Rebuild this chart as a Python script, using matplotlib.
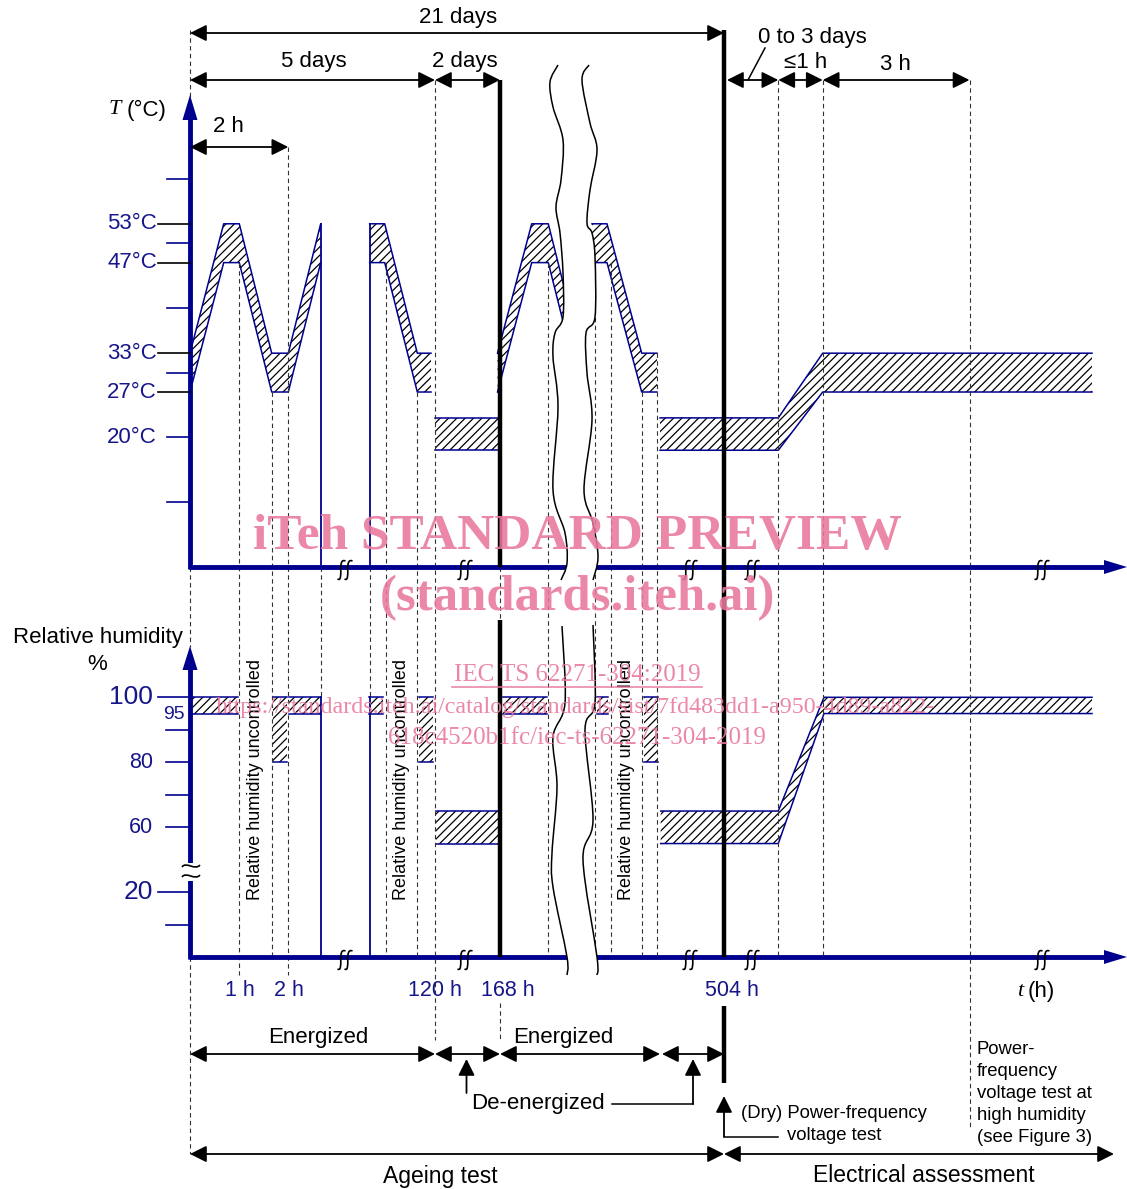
import numpy as np
import matplotlib
matplotlib.use('Agg')
import matplotlib.pyplot as plt
from matplotlib.path import Path
from matplotlib.patches import PathPatch

plt.rcParams['font.family'] = ['Liberation Sans', 'DejaVu Sans']
plt.rcParams['hatch.linewidth'] = 0.9

W, H, DPI = 1127, 1189, 100
NAVY = '#00008f'
NAVY_TXT = '#16168a'
PINK = '#e9789b'

# ---------------- data ----------------
# temperature axis (degC)
temp_major = [27, 33, 47, 53]
temp_minor = [10, 20, 30, 40, 50, 60]
temp_label_vals = [20, 27, 33, 47, 53]
temp_labels = ['20°C', '27°C', '33°C', '47°C', '53°C']

# relative humidity axis (%)
rh_long = [100, 20]
rh_short = [90, 80, 70, 60, 10]
rh_label_vals = [100, 80, 60, 20]
rh_labels = ['100', '80', '60', '20']
rh_label_sizes = [19, 15.5, 15.5, 19]

# schematic time axis positions (the time axis is broken, not to scale)
t_cyc1_x = [190, 223.7, 239.3, 271.7, 288.3, 320.7]
t_cyc1_hi = [33, 53, 53, 33, 33, 53]
t_cyc1_lo = [27, 47, 47, 27, 27, 47]
t_cyc2_x = [369.7, 384.7, 417.3, 431]
t_cyc2_hi = [53, 53, 33, 33]
t_cyc2_lo = [47, 47, 27, 27]
t_cyc3_x = [497.5, 531.7, 548.3, 580.7]
t_cyc3_hi = [33, 53, 53, 33]
t_cyc3_lo = [27, 47, 47, 27]
t_cyc4_x = [592, 607, 641.7, 657]
t_cyc4_hi = [53, 53, 33, 33]
t_cyc4_lo = [47, 47, 27, 27]
t_rest_x = [435, 498]
t_rest_hi = [23, 23]
t_rest_lo = [18, 18]
t_final_x = [660, 778.3, 822.7, 1092]
t_final_hi = [23, 23, 33, 33]
t_final_lo = [18, 18, 27, 27]

rh_band_x0 = [190, 272.7, 289.3, 369.3, 419.3, 436, 502.7, 596.7, 644]
rh_band_x1 = [238.3, 286.7, 320.7, 383.3, 433.3, 497.7, 546.7, 607.7, 657.7]
rh_band_lo = [95, 80, 95, 95, 80, 55, 95, 95, 80]
rh_band_hi = [100, 100, 100, 100, 100, 65, 100, 100, 100]
rh_final_x = [660.7, 778.3, 824, 1092]
rh_final_hi = [65, 65, 100, 100]
rh_final_lo = [55, 55, 95, 95]

energized_walls = [320.7, 369.7]

x_labels = ['1 h', '2 h', '120 h', '168 h', '504 h']
x_label_pos = [240, 289, 435, 508, 732]

# ---------------- layout helpers ----------------
Y20, TPX = 437.3, 6.47     # pixel row of 20 degC, px per degC
Y100, HPX = 697.3, 3.25    # pixel row of 100 %, px per %
RH_SHIFT = 20              # axis break on RH axis
X0 = 190
YT_AX, YH_AX = 567, 957


def ty(T):
    return Y20 - (np.asarray(T, float) - 20) * TPX


def rh_disp(v):
    v = np.asarray(v, float)
    return np.where(v >= 50, v, v + RH_SHIFT)


def hy(v):
    return Y100 + (100 - rh_disp(v)) * HPX


fig = plt.figure(figsize=(W / DPI, H / DPI), dpi=DPI)
fig.patch.set_facecolor('white')
axT = fig.add_axes([0, 0, 1, 1])
axT.set_xlim(0, W)
axT.set_ylim(20 - (H - Y20) / TPX, 20 + Y20 / TPX)
axH = fig.add_axes([0, 0, 1, 1])
axH.set_xlim(0, W)
axH.set_ylim(100 - (H - Y100) / HPX, 100 + Y100 / HPX)
ax = fig.add_axes([0, 0, 1, 1])
ax.set_xlim(0, W)
ax.set_ylim(H, 0)
for a in (axT, axH, ax):
    a.axis('off')
    a.patch.set_visible(False)


def band(a, x, lo, hi, z=2):
    a.fill_between(x, lo, hi, facecolor='white', edgecolor='black',
                   hatch='////', linewidth=0, zorder=z)
    a.plot(x, hi, color=NAVY, lw=1.1, zorder=z + 1)
    a.plot(x, lo, color=NAVY, lw=1.1, zorder=z + 1)


# temperature profile
band(axT, t_cyc1_x, t_cyc1_lo, t_cyc1_hi)
band(axT, t_cyc2_x, t_cyc2_lo, t_cyc2_hi)
band(axT, t_cyc3_x, t_cyc3_lo, t_cyc3_hi)
band(axT, t_cyc4_x, t_cyc4_lo, t_cyc4_hi)
band(axT, t_rest_x, t_rest_lo, t_rest_hi)
band(axT, t_final_x, t_final_lo, t_final_hi)
for xw in energized_walls:
    axT.plot([xw, xw], [0, max(t_cyc1_hi)], color=NAVY, lw=1.3, zorder=4)

# humidity profile
for x0, x1, lo, hi in zip(rh_band_x0, rh_band_x1, rh_band_lo, rh_band_hi):
    band(axH, [x0, x1], [lo, lo], [hi, hi])
band(axH, rh_final_x, rh_final_lo, rh_final_hi)
for xw in energized_walls:
    axH.plot([xw, xw], [rh_disp(0), 100], color=NAVY, lw=1.3, zorder=4)

# ---------------- dashed guide lines ----------------
DASH = dict(color='#333333', lw=0.8, ls=(0, (4, 3)), zorder=5)
guides = [
    (X0, 30, 97), (X0, YT_AX, 647), (X0, YH_AX, 1154),
    (239.3, ty(47), 975), (271.7, ty(27), YH_AX), (288.3, 147, 975),
    (320.7, YT_AX, hy(100)), (369.7, YT_AX, hy(100)),
    (385.5, ty(47), YH_AX), (417.3, ty(27), YH_AX), (435, 80, 1040),
    (500, YT_AX, 620), (500, 1003, 1040),
    (548.3, ty(47), YH_AX), (595, ty(47), YH_AX), (610.7, ty(47), YH_AX),
    (641.7, ty(27), YH_AX), (657.3, ty(33), YH_AX),
    (778.3, 80, YH_AX), (822.7, 80, YH_AX), (969.5, 80, 1130),
]
for gx, gy0, gy1 in guides:
    ax.plot([gx, gx], [gy0, gy1], **DASH)

# thick black milestone lines
THICK = dict(color='black', lw=3.2, zorder=7, solid_capstyle='butt')
ax.plot([500, 500], [80, YT_AX], **THICK)
ax.plot([500, 500], [620, YH_AX], **THICK)
ax.plot([724, 724], [30, YH_AX], **THICK)
ax.plot([724, 724], [1006, 1083], **THICK)

# ---------------- axes ----------------
AX = dict(color=NAVY, lw=3.5, zorder=6, solid_capstyle='butt')
ax.plot([X0, X0], [YT_AX + 1.5, 118], **AX)
ax.fill([X0, X0 - 7.5, X0 + 7.5], [95, 120, 120], color=NAVY, zorder=6, lw=0)
ax.plot([X0 - 1.5, 1106], [YT_AX, YT_AX], **AX)
ax.fill([1127, 1104, 1104], [YT_AX, YT_AX - 7, YT_AX + 7], color=NAVY, zorder=6, lw=0)
ax.plot([X0, X0], [YH_AX + 1.5, 668], **AX)
ax.fill([X0, X0 - 7.5, X0 + 7.5], [646, 670, 670], color=NAVY, zorder=6, lw=0)
ax.plot([X0 - 1.5, 1106], [YH_AX, YH_AX], **AX)
ax.fill([1127, 1104, 1104], [YH_AX, YH_AX - 7, YH_AX + 7], color=NAVY, zorder=6, lw=0)

# temperature ticks and labels
for v in temp_minor:
    ax.plot([167, X0], [ty(v)] * 2, color=NAVY, lw=1.2, zorder=6)
for v in temp_major:
    ax.plot([157.5, X0], [ty(v)] * 2, color='black', lw=1.2, zorder=6)
for v, lab in zip(temp_label_vals, temp_labels):
    ax.text(157, ty(v), lab, ha='right', va='center', fontsize=16, color=NAVY_TXT)
ax.text(121, 110, 'T', ha='right', va='center', fontsize=16, fontstyle='italic',
        family='Liberation Serif')
ax.text(127, 110, '(°C)', ha='left', va='center', fontsize=16)

# humidity ticks and labels
for v in rh_long:
    ax.plot([158, X0], [hy(v)] * 2, color=NAVY, lw=1.2, zorder=6)
for v in rh_short:
    ax.plot([166, X0], [hy(v)] * 2, color=NAVY, lw=1.2, zorder=6)
for v, lab, fs in zip(rh_label_vals, rh_labels, rh_label_sizes):
    ax.text(153, hy(v), lab, ha='right', va='center', fontsize=fs, color=NAVY_TXT)
ax.text(184.5, hy(95) + 1, '95', ha='right', va='center', fontsize=14, color=NAVY_TXT)
ax.text(98, 637, 'Relative humidity', ha='center', va='center', fontsize=16)
ax.text(97, 665, '%', ha='center', va='center', fontsize=16)
# axis break on RH axis
ax.plot([X0, X0], [866, 877], color='white', lw=5, zorder=8)
for yb in (866, 876):
    ax.add_patch(PathPatch(Path([(182, yb + 1), (186, yb - 5), (195, yb + 5), (200, yb - 1)],
                                [Path.MOVETO, Path.CURVE4, Path.CURVE4, Path.CURVE4]),
                           facecolor='none', edgecolor='black', lw=1.2, zorder=9))

# time axis labels
for xp, lab in zip(x_label_pos, x_labels):
    ax.text(xp, 991, lab, ha='center', va='center', fontsize=15.5, color=NAVY_TXT, zorder=9)
ax.text(1023, 991, 't', ha='right', va='center', fontsize=16, fontstyle='italic',
        family='Liberation Serif')
ax.text(1028, 991, '(h)', ha='left', va='center', fontsize=16)

# break marks on the time axes (two small integral-like strokes)
for yb in (YT_AX, YH_AX):
    for xb in (345, 465, 690, 752, 1042):
        for dx in (-3.5, 3.5):
            xc, yc = xb + dx, yb + 3
            p = Path([(xc - 4, yc + 9), (xc + 3, yc + 13), (xc - 5, yc - 13),
                      (xc + 4, yc - 9)],
                     [Path.MOVETO, Path.CURVE4, Path.CURVE4, Path.CURVE4])
            ax.add_patch(PathPatch(p, facecolor='none', edgecolor='black', lw=1.2, zorder=9))

# ---------------- wavy break ----------------
def smooth(pts):
    pts = np.asarray(pts, float)
    verts, codes = [pts[0]], [Path.MOVETO]
    n = len(pts)
    for i in range(n - 1):
        p0 = pts[i - 1] if i > 0 else pts[i]
        p1, p2 = pts[i], pts[i + 1]
        p3 = pts[i + 2] if i + 2 < n else pts[i + 1]
        verts += [p1 + (p2 - p0) / 6, p2 - (p3 - p1) / 6, p2]
        codes += [Path.CURVE4] * 3
    return verts, codes


wave_top_l = [(558, 65), (550, 82), (553, 107), (563, 140), (561, 180), (556, 207),
              (560, 233), (563, 273), (563, 317), (555, 333), (553, 357), (558, 407),
              (553, 490), (565, 533), (567, 563), (561, 580)]
wave_top_r = [(589, 65), (582, 80), (590, 123), (597, 150), (590, 190), (587, 223),
              (592, 233), (595, 257), (595, 317), (586, 333), (587, 373), (592, 420),
              (584, 490), (593, 523), (598, 557), (593, 580)]
wave_bot_l = [(562, 626), (565, 703), (553, 737), (557, 787), (552, 853), (553, 887),
              (567, 957), (567, 975)]
wave_bot_r = [(593, 625), (595, 703), (585, 730), (593, 820), (583, 860), (597, 957),
              (597, 975)]

for L, R in ((wave_top_l, wave_top_r), (wave_bot_l, wave_bot_r)):
    lv, lc = smooth(L)
    rv, rc = smooth(R[::-1])
    verts = lv + rv + [lv[0]]
    codes = lc + [Path.LINETO] + rc[1:] + [Path.CLOSEPOLY]
    ax.add_patch(PathPatch(Path(verts, codes), facecolor='white', edgecolor='none', zorder=10))
    for P in (L, R):
        v, c = smooth(P)
        ax.add_patch(PathPatch(Path(v, c), facecolor='none', edgecolor='black', lw=1.1, zorder=11))

# ---------------- dimension arrows ----------------
def dim(x0, x1, y):
    ax.annotate('', xy=(x1, y), xytext=(x0, y),
                arrowprops=dict(arrowstyle='<|-|>,head_length=0.5,head_width=0.25',
                                color='black', lw=1.3, mutation_scale=20,
                                shrinkA=0, shrinkB=0), zorder=12)


def up(x, y_tail, y_tip):
    ax.annotate('', xy=(x, y_tip), xytext=(x, y_tail),
                arrowprops=dict(arrowstyle='-|>,head_length=0.5,head_width=0.25',
                                color='black', lw=1.3, mutation_scale=20,
                                shrinkA=0, shrinkB=0), zorder=12)


dim(X0, 724, 33)
ax.text(458, 18, '21 days', ha='center', va='center', fontsize=16)
dim(X0, 435, 80)
ax.text(314, 61, '5 days', ha='center', va='center', fontsize=16)
dim(435, 500, 80)
ax.text(465, 61, '2 days', ha='center', va='center', fontsize=16)
dim(727, 778.3, 80)
dim(778.3, 822.7, 80)
dim(822.7, 969.5, 80)
ax.text(812, 37, '0 to 3 days', ha='center', va='center', fontsize=16)
ax.plot([765, 748], [48, 80], color='black', lw=1.1)
ax.text(806, 63, '≤1 h', ha='center', va='center', fontsize=16)
ax.text(895, 64, '3 h', ha='center', va='center', fontsize=16)
dim(X0, 288.3, 147)
ax.text(228, 127, '2 h', ha='center', va='center', fontsize=16)

# bottom annotations
dim(X0, 435, 1054)
dim(435, 500, 1054)
dim(500, 660, 1054)
dim(662, 724, 1054)
ax.text(318, 1038, 'Energized', ha='center', va='center', fontsize=16)
ax.text(563, 1038, 'Energized', ha='center', va='center', fontsize=16)
up(466.5, 1093, 1059)
up(693, 1104, 1059)
ax.plot([612, 693], [1104, 1104], color='black', lw=1.1)
ax.text(538, 1104, 'De-energized', ha='center', va='center', fontsize=16)
up(724, 1136.5, 1096)
ax.plot([724, 778], [1136.5, 1136.5], color='black', lw=1.1)
ax.text(741, 1114, '(Dry) Power-frequency', ha='left', va='center', fontsize=13.3)
ax.text(787, 1136, 'voltage test', ha='left', va='center', fontsize=13.3)
for i, line in enumerate(['Power-', 'frequency', 'voltage test at', 'high humidity',
                          '(see Figure 3)']):
    ax.text(977, 1049 + i * 22.0, line, ha='left', va='center', fontsize=13.3)
dim(X0, 724, 1154)
dim(724, 1114, 1154)
ax.text(440, 1176, 'Ageing test', ha='center', va='center', fontsize=16.5)
ax.text(924, 1176, 'Electrical assessment', ha='center', va='center', fontsize=16.5)

# rotated notes
for xr in (255, 401.7, 626.7):
    ax.text(xr, 779, 'Relative humidity uncontrolled', rotation=90, ha='center',
            va='center', fontsize=13, zorder=12)

# ---------------- watermark ----------------
WM = dict(color=PINK, alpha=0.88, ha='center', va='center', family='Liberation Serif',
          zorder=20)
ax.text(577, 537, 'iTeh STANDARD PREVIEW', fontsize=37, fontweight='bold', **WM)
ax.text(577, 598, '(standards.iteh.ai)', fontsize=36.5, fontweight='bold', **WM)
ax.text(577, 675, 'IEC TS 62271-304:2019', fontsize=18, **WM)
ax.plot([452, 702], [687, 687], color=PINK, alpha=0.88, lw=1.2, zorder=20)
ax.text(575, 707, 'https://standards.iteh.ai/catalog/standards/sist/7fd483dd1-a950-4d89-a822-',
        fontsize=17.3, **WM)
ax.text(577, 738, '618c4520b1fc/iec-ts-62271-304-2019', fontsize=18, **WM)

fig.savefig('out.png', dpi=DPI, facecolor='white')
